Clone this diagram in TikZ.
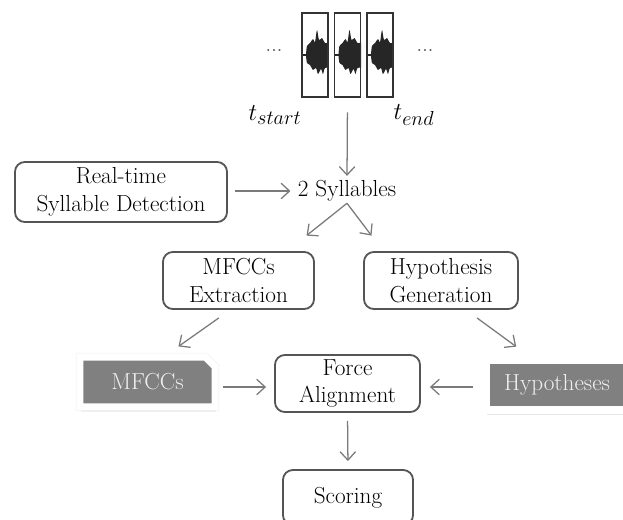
\documentclass[tikz,border=0pt]{standalone}
\usepackage{fontspec}
\usetikzlibrary{arrows.meta, shapes.misc, shadows}
\definecolor{boxline}{HTML}{555555}
\definecolor{arrline}{HTML}{7A7A7A}
\definecolor{datafill}{HTML}{808080}
\definecolor{wavefill}{HTML}{262626}
\tikzset{
	procbox/.style={draw=boxline, line width=1.3pt, rounded corners=7pt, fill=white, align=center, text=black, font=\fontsize{16.5}{19.5}\selectfont, inner sep=0pt},
	databox/.style={fill=datafill, draw=white, line width=5pt, text=white!94!black, font=\fontsize{16.5}{19.5}\selectfont, inner sep=0pt, minimum height=1.25cm, preaction={draw=black!7, line width=5.8pt}, drop shadow={shadow xshift=0.8pt, shadow yshift=-3.2pt, opacity=0.18}},
	arr/.style={draw=arrline, line width=0.9pt, -{Straight Barb[length=6pt, width=11pt]}},
	framebox/.style={draw=black!80, line width=1pt, minimum width=0.65cm, minimum height=2.1cm, inner sep=0pt},
}

\begin{document}
\begin{tikzpicture}[x=0.025cm, y=-0.025cm]
	\useasboundingbox (0, 0) rectangle (623, 519);
	% Signal frames:
	\node[framebox] (fr1) at (315, 55){};
	\node[framebox] (fr2) at (347.5, 55){};
	\node[framebox] (fr3) at (380, 55){};
	\foreach \f in {fr1, fr2, fr3}{
		\begin{scope}
			\clip (\f.south west) rectangle (\f.north east);
			\begin{scope}[shift={(\f.center)}]
				\fill[wavefill] plot[smooth cycle, tension=0.45] coordinates {(-9, -1) (-8, -9) (-5, -12) (-2, -16) (0, -13) (2, -25) (4, -15) (7, -17) (10, -12) (16, -11) (16, 11) (10, 13) (8, 19) (6, 14) (3, 19) (1, 13) (-2, 15) (-5, 10) (-8, 8) (-9, 1)};
				\draw[wavefill, line width=0.8pt] (-13, 0) -- (-8, 0);
			\end{scope}
		\end{scope}
		\node[framebox] at (\f.center){};
	}
	\node[text=black!70, font=\Large] (dotsl) at (274, 51){...};
	\node[text=black!70, font=\Large] (dotsr) at (425, 51){...};
	\node[font=\fontsize{19}{22}\selectfont] (tstart) at (275, 115){$t_{start}$};
	\node[font=\fontsize{19}{22}\selectfont] (tend) at (414, 115){$t_{end}$};
	% Nodes:
	\node[font=\fontsize{16.5}{19.5}\selectfont, inner sep=0pt, minimum height=0.6cm] (syll) at (347, 191){2 Syllables};
	\node[procbox, minimum width=5.3cm, minimum height=1.5cm] (rtsd) at (121, 192){Real-time\\Syllable Detection};
	\node[procbox, minimum width=3.775cm, minimum height=1.425cm] (mfext) at (238.5, 280.5){MFCCs\\Extraction};
	\node[procbox, minimum width=3.85cm, minimum height=1.425cm] (hypgen) at (441, 280.5){Hypothesis\\Generation};
	\node[databox, shape=chamfered rectangle, chamfered rectangle corners=north east, chamfered rectangle xsep=4pt, minimum width=3.375cm] (mfccs) at (147.5, 382){MFCCs};
	\node[databox, minimum width=3.55cm] (hyps) at (557, 385){Hypotheses};
	\node[procbox, minimum width=3.625cm, minimum height=1.425cm] (force) at (347.5, 383.5){Force\\Alignment};
	\node[procbox, minimum width=3.25cm, minimum height=1.375cm] (score) at (348, 497.5){Scoring};
	% Arrows:
	\draw[arr, shorten <=10.5pt, shorten >=2pt] (fr2.south) -- (syll.north);
	\draw[arr, shorten <=5pt, shorten >=5pt] (rtsd.east |- syll) -- (syll.west);
	\draw[arr] (syll.south) -- ([xshift=-6pt, yshift=11pt]mfext.north east);
	\draw[arr] (syll.south) -- ([xshift=6pt, yshift=11pt]hypgen.north west);
	\draw[arr] ([xshift=-14pt, yshift=-5.7pt]mfext.south) -- ([xshift=22pt, yshift=5pt]mfccs.north);
	\draw[arr] ([xshift=25.6pt, yshift=-5.7pt]hypgen.south) -- ([xshift=-29pt, yshift=7pt]hyps.north);
	\draw[arr, shorten <=3pt, shorten >=5.7pt] (mfccs.east |- 0, 387) -- (force.west |- 0, 387);
	\draw[arr, shorten <=6.4pt, shorten >=6.4pt] (hyps.west |- 0, 387) -- (force.east |- 0, 387);
	\draw[arr, shorten <=5.7pt, shorten >=5.7pt] (force.south) -- (score.north);
\end{tikzpicture}
\end{document}
